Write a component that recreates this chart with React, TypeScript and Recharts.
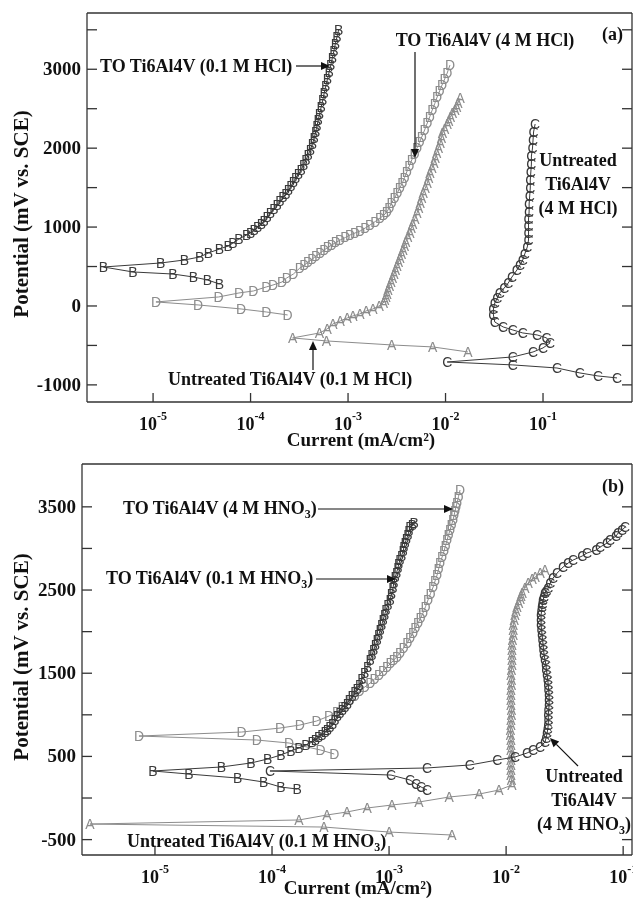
import { ScatterChart, Scatter, XAxis, YAxis } from "recharts";

type Pt = [number, number]; // [current mA/cm², potential mV]

// ---- panel (a): HCl ----
const hcl01Treated: Pt[] = [
  [4.8e-5, 279], [3.6e-5, 330], [2.6e-5, 367], [1.6e-5, 405], [6.2e-6, 431], [3.1e-6, 494],
  [1.2e-5, 545], [2.1e-5, 583], [3.0e-5, 621], [3.7e-5, 672], [4.8e-5, 722], [5.9e-5, 760],
  [6.6e-5, 798], [7.6e-5, 849], [9.1e-5, 900], [1.0e-4, 930], [1.09e-4, 963], [1.18e-4, 1000],
  [1.29e-4, 1039], [1.38e-4, 1080], [1.48e-4, 1128], [1.6e-4, 1180], [1.74e-4, 1229], [1.87e-4, 1280],
  [2.0e-4, 1330], [2.15e-4, 1375], [2.3e-4, 1419], [2.45e-4, 1470], [2.6e-4, 1520], [2.75e-4, 1570],
  [2.9e-4, 1622], [3.1e-4, 1672], [3.3e-4, 1723], [3.5e-4, 1790], [3.7e-4, 1850], [3.9e-4, 1915],
  [4.1e-4, 1977], [4.3e-4, 2050], [4.5e-4, 2129], [4.65e-4, 2205], [4.8e-4, 2281], [4.95e-4, 2357],
  [5.1e-4, 2433], [5.3e-4, 2520], [5.5e-4, 2610], [5.7e-4, 2700], [5.9e-4, 2787], [6.15e-4, 2876],
  [6.4e-4, 2965], [6.65e-4, 3053], [6.9e-4, 3142], [7.15e-4, 3230], [7.4e-4, 3320], [7.7e-4, 3410],
  [8.0e-4, 3497],
];
const hcl4Treated: Pt[] = [
  [2.4e-4, -114], [1.45e-4, -76], [8.0e-5, -38], [2.9e-5, 13], [1.07e-5, 51],
  [4.7e-5, 114], [7.6e-5, 165], [1.07e-4, 190], [1.45e-4, 241], [1.7e-4, 266], [2.1e-4, 304],
  [2.35e-4, 355], [2.75e-4, 405], [3.2e-4, 480], [3.55e-4, 518], [3.9e-4, 557], [4.3e-4, 595],
  [4.7e-4, 634], [5.2e-4, 672], [5.7e-4, 710], [6.2e-4, 742], [6.8e-4, 773], [7.5e-4, 805],
  [8.3e-4, 836], [9.4e-4, 868], [1.05e-3, 900], [1.18e-3, 925], [1.33e-3, 950], [1.5e-3, 988],
  [1.68e-3, 1026], [1.9e-3, 1070], [2.13e-3, 1115], [2.33e-3, 1150], [2.5e-3, 1191], [2.65e-3, 1248],
  [2.8e-3, 1305], [3.0e-3, 1368], [3.2e-3, 1432], [3.4e-3, 1495], [3.6e-3, 1558], [3.8e-3, 1628],
  [4.0e-3, 1698], [4.25e-3, 1774], [4.5e-3, 1850], [4.8e-3, 1926], [5.1e-3, 2002], [5.4e-3, 2072],
  [5.7e-3, 2141], [6.1e-3, 2230], [6.5e-3, 2319], [6.9e-3, 2401], [7.3e-3, 2483], [7.75e-3, 2565],
  [8.2e-3, 2648], [8.7e-3, 2724], [9.2e-3, 2800], [9.8e-3, 2876], [1.04e-2, 2952], [1.11e-2, 3053],
];
const hcl01Untreated: Pt[] = [
  [1.7e-2, -583], [7.4e-3, -519], [2.8e-3, -494], [6.0e-4, -443], [2.7e-4, -405],
  [5.1e-4, -342], [6.1e-4, -291], [7.0e-4, -228], [8.3e-4, -190], [9.8e-4, -152], [1.12e-3, -127],
  [1.32e-3, -101], [1.53e-3, -63], [1.8e-3, -38], [2.08e-3, 0], [2.3e-3, 38], [2.38e-3, 76],
  [2.45e-3, 114], [2.5e-3, 158], [2.57e-3, 203], [2.66e-3, 253], [2.76e-3, 304], [2.86e-3, 354],
  [2.96e-3, 405], [3.07e-3, 456], [3.18e-3, 507], [3.29e-3, 557], [3.4e-3, 608], [3.53e-3, 658],
  [3.66e-3, 709], [3.78e-3, 760], [3.9e-3, 811], [4.1e-3, 868], [4.3e-3, 925], [4.45e-3, 982],
  [4.6e-3, 1039], [4.85e-3, 1108], [5.1e-3, 1178], [5.3e-3, 1241], [5.5e-3, 1305], [5.7e-3, 1368],
  [5.9e-3, 1432], [6.2e-3, 1495], [6.5e-3, 1558], [6.7e-3, 1621], [6.9e-3, 1685], [7.25e-3, 1748],
  [7.6e-3, 1812], [7.85e-3, 1875], [8.1e-3, 1938], [8.45e-3, 2001], [8.8e-3, 2065], [9.05e-3, 2128],
  [9.3e-3, 2192], [9.8e-3, 2249], [1.04e-2, 2306], [1.08e-2, 2350], [1.12e-2, 2395], [1.18e-2, 2440],
  [1.25e-2, 2483], [1.3e-2, 2528], [1.34e-2, 2572], [1.41e-2, 2635],
];
const hcl4Untreated: Pt[] = [
  [0.574, -912], [0.366, -887], [0.239, -849], [0.139, -786], [0.049, -747], [0.0104, -710],
  [0.049, -646], [0.079, -583], [0.1, -532], [0.118, -469], [0.109, -405], [0.087, -367],
  [0.062, -342], [0.049, -304], [0.039, -266], [0.032, -203], [0.031, -114], [0.031, -38],
  [0.032, 38], [0.034, 101], [0.036, 165], [0.04, 228], [0.044, 291], [0.048, 367], [0.054, 456],
  [0.058, 519], [0.062, 583], [0.065, 659], [0.069, 748], [0.071, 836], [0.071, 925], [0.071, 1014],
  [0.071, 1102], [0.072, 1191], [0.072, 1292], [0.073, 1394], [0.074, 1495], [0.074, 1596],
  [0.075, 1698], [0.076, 1799], [0.076, 1900], [0.078, 2002], [0.079, 2103], [0.08, 2205], [0.083, 2306],
];

// ---- panel (b): HNO3 ----
const hno01Treated: Pt[] = [
  [1.64e-4, 108], [1.19e-4, 132], [8.5e-5, 192], [5.1e-5, 240], [1.95e-5, 288], [9.6e-6, 325],
  [3.7e-5, 373], [6.6e-5, 421], [9.2e-5, 469], [1.19e-4, 517], [1.45e-4, 565], [1.7e-4, 601],
  [1.95e-4, 637], [2.2e-4, 673], [2.35e-4, 703], [2.5e-4, 733], [2.67e-4, 763], [2.84e-4, 793],
  [2.98e-4, 823], [3.13e-4, 853], [3.29e-4, 895], [3.45e-4, 938], [3.62e-4, 980], [3.8e-4, 1022],
  [4.0e-4, 1058], [4.2e-4, 1094], [4.4e-4, 1136], [4.6e-4, 1178], [4.85e-4, 1226], [5.1e-4, 1274],
  [5.35e-4, 1316], [5.6e-4, 1358], [5.85e-4, 1430], [6.2e-4, 1502], [6.55e-4, 1580], [6.9e-4, 1659],
  [7.15e-4, 1719], [7.4e-4, 1779], [7.65e-4, 1839], [7.9e-4, 1899], [8.15e-4, 1959], [8.4e-4, 2019],
  [8.65e-4, 2080], [8.9e-4, 2140], [9.15e-4, 2200], [9.4e-4, 2260], [9.8e-4, 2320], [1.02e-3, 2380],
  [1.05e-3, 2452], [1.08e-3, 2524], [1.1e-3, 2590], [1.13e-3, 2656], [1.16e-3, 2710], [1.19e-3, 2765],
  [1.21e-3, 2813], [1.24e-3, 2861], [1.28e-3, 2915], [1.32e-3, 2969], [1.34e-3, 3017], [1.37e-3, 3065],
  [1.41e-3, 3113], [1.45e-3, 3161], [1.48e-3, 3209], [1.51e-3, 3257], [1.58e-3, 3285], [1.64e-3, 3306],
];
const hno4Treated: Pt[] = [
  [3.4e-4, 529], [2.6e-4, 577], [1.4e-4, 661], [7.4e-5, 697], [7.3e-6, 745],
  [5.5e-5, 793], [1.17e-4, 841], [1.73e-4, 877], [2.4e-4, 925], [3.07e-4, 986], [3.6e-4, 1034],
  [4.0e-4, 1100], [4.6e-4, 1178], [5.1e-4, 1232], [5.6e-4, 1286], [6.2e-4, 1334], [6.9e-4, 1382],
  [7.5e-4, 1430], [8.2e-4, 1478], [8.9e-4, 1527], [9.6e-4, 1575], [1.03e-3, 1617], [1.1e-3, 1659],
  [1.17e-3, 1701], [1.24e-3, 1743], [1.33e-3, 1803], [1.43e-3, 1863], [1.51e-3, 1923], [1.6e-3, 1983],
  [1.68e-3, 2043], [1.77e-3, 2103], [1.86e-3, 2164], [1.95e-3, 2224], [2.05e-3, 2302], [2.15e-3, 2380],
  [2.26e-3, 2458], [2.38e-3, 2536], [2.47e-3, 2608], [2.57e-3, 2680], [2.65e-3, 2752], [2.73e-3, 2825],
  [2.84e-3, 2897], [2.95e-3, 2969], [3.04e-3, 3035], [3.13e-3, 3101], [3.22e-3, 3161], [3.32e-3, 3221],
  [3.42e-3, 3282], [3.52e-3, 3342], [3.59e-3, 3396], [3.66e-3, 3450], [3.73e-3, 3498], [3.81e-3, 3546],
  [3.92e-3, 3624], [4.04e-3, 3702],
];
const hno4Untreated: Pt[] = [
  [2.11e-3, 96], [1.88e-3, 132], [1.7e-3, 168], [1.51e-3, 216], [1.04e-3, 276], [9.6e-5, 325],
  [2.11e-3, 361], [4.9e-3, 397], [8.4e-3, 457], [1.19e-2, 493], [1.51e-2, 541], [1.7e-2, 577],
  [1.95e-2, 613], [2.15e-2, 673], [2.2e-2, 727], [2.24e-2, 781], [2.27e-2, 829], [2.29e-2, 877],
  [2.3e-2, 938], [2.29e-2, 998], [2.31e-2, 1058], [2.33e-2, 1118], [2.33e-2, 1178], [2.33e-2, 1238],
  [2.31e-2, 1298], [2.29e-2, 1358], [2.27e-2, 1418], [2.24e-2, 1478], [2.21e-2, 1539], [2.19e-2, 1599],
  [2.15e-2, 1659], [2.11e-2, 1719], [2.09e-2, 1779], [2.07e-2, 1839], [2.05e-2, 1899], [2.03e-2, 1959],
  [2.01e-2, 2019], [1.99e-2, 2079], [1.99e-2, 2140], [1.99e-2, 2200], [2.01e-2, 2248], [2.03e-2, 2296],
  [2.05e-2, 2338], [2.07e-2, 2380], [2.11e-2, 2422], [2.15e-2, 2464], [2.22e-2, 2494], [2.29e-2, 2524],
  [2.38e-2, 2584], [2.52e-2, 2644], [2.73e-2, 2704], [3.07e-2, 2777], [3.39e-2, 2825], [3.74e-2, 2861],
  [4.47e-2, 2909], [4.92e-2, 2945], [5.9e-2, 2981], [6.35e-2, 3017], [7.3e-2, 3065], [7.74e-2, 3101],
  [8.7e-2, 3149], [9.06e-2, 3185], [9.8e-2, 3221], [0.104, 3257],
];
const hno01Untreated: Pt[] = [
  [3.45e-3, -445], [1.0e-3, -409], [2.78e-4, -349], [2.78e-6, -313],
  [1.7e-4, -264], [2.95e-4, -204], [4.37e-4, -168], [6.5e-4, -120], [1.06e-3, -84], [1.8e-3, -48],
  [3.26e-3, 12], [5.9e-3, 48], [8.7e-3, 96], [1.12e-2, 156], [1.11e-2, 216], [1.1e-2, 276],
  [1.1e-2, 337], [1.1e-2, 397], [1.1e-2, 457], [1.11e-2, 517], [1.1e-2, 577], [1.1e-2, 637],
  [1.1e-2, 697], [1.09e-2, 757], [1.09e-2, 817], [1.1e-2, 877], [1.1e-2, 938], [1.11e-2, 998],
  [1.11e-2, 1058], [1.1e-2, 1118], [1.1e-2, 1178], [1.1e-2, 1238], [1.1e-2, 1298], [1.11e-2, 1358],
  [1.11e-2, 1418], [1.1e-2, 1478], [1.11e-2, 1539], [1.12e-2, 1599], [1.12e-2, 1659], [1.12e-2, 1719],
  [1.12e-2, 1779], [1.12e-2, 1839], [1.13e-2, 1899], [1.15e-2, 1959], [1.15e-2, 2019], [1.15e-2, 2079],
  [1.17e-2, 2140], [1.19e-2, 2200], [1.21e-2, 2248], [1.24e-2, 2296], [1.28e-2, 2344], [1.32e-2, 2392],
  [1.34e-2, 2428], [1.37e-2, 2464], [1.45e-2, 2524], [1.54e-2, 2584], [1.67e-2, 2632], [1.77e-2, 2656],
  [1.95e-2, 2704], [2.15e-2, 2740],
];

const currentExponents = [-5, -4, -3, -2, -1];
const potTicksA = [-1000, -500, 0, 500, 1000, 1500, 2000, 2500, 3000, 3500];
const potLabelsA = [-1000, 0, 1000, 2000, 3000];
const potTicksB = [-500, 0, 500, 1000, 1500, 2000, 2500, 3000, 3500];
const potLabelsB = [-500, 500, 1500, 2500, 3500];

const SERIF = '"Liberation Serif", "Times New Roman", serif';
const SANS = '"Liberation Sans", Arial, sans-serif';
const INK = "#111";
const FRAME = "#333";
const DARK = "#3a3a3a";
const GRAY = "#8c8c8c";
const TICK_X = 9;
const TICK_Y = 10;

const decadeTicks = currentExponents.map((e) => Math.pow(10, e));
const toRows = (pts: Pt[]) => pts.map(([i, e]) => ({ i, e }));

const glyph = (letter: string, color: string) => (p: any) => (
  <text
    x={p.cx}
    y={p.cy}
    textAnchor="middle"
    dominantBaseline="central"
    fontFamily={SANS}
    fontSize={14}
    fill={color}
  >
    {letter}
  </text>
);

// inward tick marks; labels outside
function BottomTick({ x, y, payload }: any) {
  const exp = Math.round(Math.log10(payload.value));
  return (
    <g>
      <line x1={x} y1={y} x2={x} y2={y - TICK_X} stroke={FRAME} strokeWidth={1.3} />
      <text x={x} y={y + 28} textAnchor="middle" fontFamily={SERIF} fontWeight="bold" fontSize={18} fill={INK}>
        10
        <tspan dy={-10} fontSize={12}>
          {exp}
        </tspan>
      </text>
    </g>
  );
}
const TopTick = ({ x, y }: any) => <line x1={x} y1={y} x2={x} y2={y + TICK_X} stroke={FRAME} strokeWidth={1.3} />;
const RightTick = ({ x, y }: any) => <line x1={x} y1={y} x2={x - TICK_Y} y2={y} stroke={FRAME} strokeWidth={1.3} />;
const leftTick = (labels: number[]) => ({ x, y, payload }: any) => (
  <g>
    <line x1={x} y1={y} x2={x + TICK_Y} y2={y} stroke={FRAME} strokeWidth={1.3} />
    {labels.includes(payload.value) && (
      <text x={x - 6} y={y + 6} textAnchor="end" fontFamily={SERIF} fontWeight="bold" fontSize={19} fill={INK}>
        {payload.value}
      </text>
    )}
  </g>
);

type Series = { data: Pt[]; letter: string; color: string };

function Panel(props: {
  height: number;
  top: number;
  bottom: number;
  yWidth: number;
  xDomain: [number, number];
  yDomain: [number, number];
  ticks: number[];
  labels: number[];
  series: Series[];
}) {
  const axisLine = { stroke: FRAME, strokeWidth: 1.3 };
  const common = { tickSize: 0, tickMargin: 0, tickLine: false, axisLine, interval: 0 as const, allowDataOverflow: true };
  return (
    <ScatterChart width={633} height={props.height} margin={{ top: props.top - 1, right: 0, bottom: props.bottom - 1, left: 0 }}>
      <XAxis xAxisId="bot" dataKey="i" type="number" scale="log" domain={props.xDomain} ticks={decadeTicks} height={1} tick={<BottomTick />} {...common} />
      <XAxis xAxisId="top" orientation="top" type="number" scale="log" domain={props.xDomain} ticks={decadeTicks} height={1} tick={<TopTick />} {...common} />
      <YAxis yAxisId="left" dataKey="e" type="number" domain={props.yDomain} ticks={props.ticks} width={props.yWidth} tick={leftTick(props.labels)} {...common} />
      <YAxis yAxisId="right" orientation="right" type="number" domain={props.yDomain} ticks={props.ticks} width={1} tick={<RightTick />} {...common} />
      {props.series.map((s) => (
        <Scatter
          key={s.letter}
          xAxisId="bot"
          yAxisId="left"
          data={toRows(s.data)}
          line={{ stroke: s.color, strokeWidth: 1 }}
          lineType="joint"
          shape={glyph(s.letter, s.color)}
          isAnimationActive={false}
        />
      ))}
    </ScatterChart>
  );
}

function Arrow({ x1, y1, x2, y2 }: { x1: number; y1: number; x2: number; y2: number }) {
  const a = Math.atan2(y2 - y1, x2 - x1);
  const L = 9;
  const W = 4;
  const bx = x2 - L * Math.cos(a);
  const by = y2 - L * Math.sin(a);
  const px = -Math.sin(a) * W;
  const py = Math.cos(a) * W;
  return (
    <g>
      <line x1={x1} y1={y1} x2={bx} y2={by} stroke={INK} strokeWidth={1.2} />
      <polygon points={`${x2},${y2} ${bx + px},${by + py} ${bx - px},${by - py}`} fill={INK} />
    </g>
  );
}

const Sub3 = () => (
  <>
    <tspan dy={4} fontSize={12}>
      3
    </tspan>
    <tspan dy={-4}>)</tspan>
  </>
);

function Overlay() {
  const t = { fontFamily: SERIF, fontWeight: "bold" as const, fontSize: 18, fill: INK };
  return (
    <svg width={633} height={898} style={{ position: "absolute", left: 0, top: 0, pointerEvents: "none" }}>
      {/* axis titles */}
      <text transform="translate(28,214) rotate(-90)" textAnchor="middle" {...t} fontSize={21}>
        Potential (mV vs. SCE)
      </text>
      <text transform="translate(28,657) rotate(-90)" textAnchor="middle" {...t} fontSize={21}>
        Potential (mV vs. SCE)
      </text>
      <text x={361} y={446} textAnchor="middle" {...t} fontSize={19}>
        Current (mA/cm²)
      </text>
      <text x={358} y={894} textAnchor="middle" {...t} fontSize={19}>
        Current (mA/cm²)
      </text>

      {/* panel (a) */}
      <text x={602} y={40} {...t}>(a)</text>
      <text x={100} y={72} {...t}>TO Ti6Al4V (0.1 M HCl)</text>
      <Arrow x1={296} y1={66} x2={330} y2={66} />
      <text x={485} y={46} textAnchor="middle" {...t}>TO Ti6Al4V (4 M HCl)</text>
      <Arrow x1={415} y1={52} x2={415} y2={158} />
      <text x={578} y={166} textAnchor="middle" {...t}>Untreated</text>
      <text x={578} y={190} textAnchor="middle" {...t}>Ti6Al4V</text>
      <text x={578} y={214} textAnchor="middle" {...t}>(4 M HCl)</text>
      <text x={168} y={385} {...t}>Untreated Ti6Al4V (0.1 M HCl)</text>
      <Arrow x1={313} y1={370} x2={313} y2={341} />

      {/* panel (b) */}
      <text x={602} y={492} {...t}>(b)</text>
      <text x={123} y={514} {...t}>
        TO Ti6Al4V (4 M HNO<Sub3 />
      </text>
      <Arrow x1={318} y1={509} x2={453} y2={509} />
      <text x={106} y={584} {...t}>
        TO Ti6Al4V (0.1 M HNO<Sub3 />
      </text>
      <Arrow x1={316} y1={579} x2={396} y2={579} />
      <text x={584} y={782} textAnchor="middle" {...t}>Untreated</text>
      <text x={584} y={806} textAnchor="middle" {...t}>Ti6Al4V</text>
      <text x={584} y={830} textAnchor="middle" {...t}>
        (4 M HNO<Sub3 />
      </text>
      <Arrow x1={578} y1={766} x2={550} y2={738} />
      <text x={127} y={847} {...t}>
        Untreated Ti6Al4V (0.1 M HNO<Sub3 />
      </text>
    </svg>
  );
}

export default function App() {
  return (
    <div style={{ position: "absolute", left: 0, top: 0, width: 633, height: 898, background: "#fff", filter: "grayscale(1)" }}>
      <div style={{ position: "absolute", left: 0, top: 0 }}>
        <Panel
          height={450}
          top={13}
          bottom={48}
          yWidth={87}
          xDomain={[2.1e-6, 0.818]}
          yDomain={[-1217, 3713]}
          ticks={potTicksA}
          labels={potLabelsA}
          series={[
            { data: hcl01Untreated, letter: "A", color: GRAY },
            { data: hcl4Treated, letter: "D", color: GRAY },
            { data: hcl01Treated, letter: "B", color: DARK },
            { data: hcl4Untreated, letter: "C", color: DARK },
          ]}
        />
      </div>
      <div style={{ position: "absolute", left: 0, top: 450 }}>
        <Panel
          height={448}
          top={14}
          bottom={43}
          yWidth={82}
          xDomain={[2.38e-6, 0.119]}
          yDomain={[-685, 4015]}
          ticks={potTicksB}
          labels={potLabelsB}
          series={[
            { data: hno01Untreated, letter: "A", color: GRAY },
            { data: hno4Treated, letter: "D", color: GRAY },
            { data: hno01Treated, letter: "B", color: DARK },
            { data: hno4Untreated, letter: "C", color: DARK },
          ]}
        />
      </div>
      <Overlay />
    </div>
  );
}
